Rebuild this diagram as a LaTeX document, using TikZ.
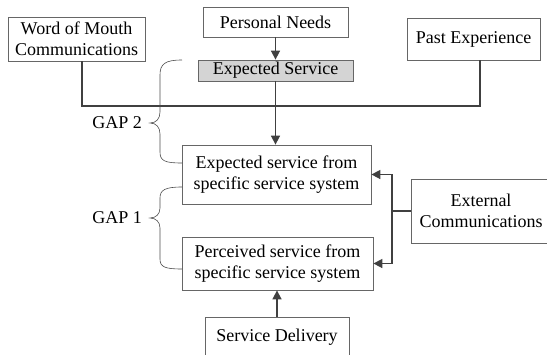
\documentclass[tikz,border=0pt]{standalone}
\usepackage{fontspec}
\setmainfont{Liberation Serif}
\usetikzlibrary{arrows.meta}
\begin{document}
\begin{tikzpicture}[x=1pt,y=-1pt,
  box/.style={draw=black!60, line width=0.8pt, fill=white, align=center, inner sep=0pt,
    font=\fontsize{18}{21}\selectfont},
  conn/.style={draw=black!75, line width=1.6pt},
  arr/.style={conn, -{Triangle[length=9pt,width=9pt]}},
  brace/.style={draw=black!70, line width=0.6pt},
  lbl/.style={font=\fontsize{18}{21}\selectfont, inner sep=0pt}]
\useasboundingbox (0,0) rectangle (547,354);
\node[box, minimum width=137pt, minimum height=44pt] (wom) at (76.5,39) {Word of Mouth\\Communications};
\node[box, minimum width=145pt, minimum height=30pt] (pn) at (275.5,22) {Personal Needs};
\node[box, minimum width=155pt, minimum height=21pt, fill=black!17] (es) at (275.5,70.5) {Expected Service};
\node[box, minimum width=133pt, minimum height=42pt] (pe) at (473.5,39) {Past Experience};
\node[box, minimum width=189pt, minimum height=59pt] (ess) at (276.5,174.5) {Expected service from\\specific service system};
\node[box, minimum width=191pt, minimum height=53pt] (pss) at (277.5,263.5) {Perceived service from\\specific service system};
\node[box, minimum width=144pt, minimum height=40pt] (sd) at (277,337) {Service Delivery};
\node[box, minimum width=140pt, minimum height=64pt] (ec) at (481,211) {External\\Communications};
\node[lbl, anchor=east] (g2) at (142,123) {GAP 2};
\node[lbl, anchor=east] (g1) at (142,218) {GAP 1};
% connectors
\coordinate (j) at (275.5,106);
\draw[conn] ([xshift=5.5pt]wom.south) |- (j) -| ([xshift=6.5pt]pe.south);
\draw[arr] (pn.south) -- (es.north);
\draw[arr] (es.south) -- (es.south |- ess.north);
\draw[arr] (sd.north) -- (sd.north |- pss.south);
\coordinate (b) at (392,211);
\draw[conn] (ec.west) -- (b);
\draw[arr] (b) |- (ess.east);
\draw[arr] (b) |- (pss.east);
% braces
\draw[brace] (182,60) .. controls (165,60) and (160,64) .. (160,75) -- (160,112)
  .. controls (160,119) and (156,123) .. (150,123)
  .. controls (156,123) and (160,127) .. (160,134) -- (160,152)
  .. controls (160,161) and (165,163) .. (182,163);
\draw[brace] (182,187) .. controls (165,187) and (160,190) .. (160,198) -- (160,208)
  .. controls (160,214) and (156,218) .. (150,218)
  .. controls (156,218) and (160,222) .. (160,228) -- (160,259)
  .. controls (160,267) and (165,269) .. (182,269);
\end{tikzpicture}
\end{document}
